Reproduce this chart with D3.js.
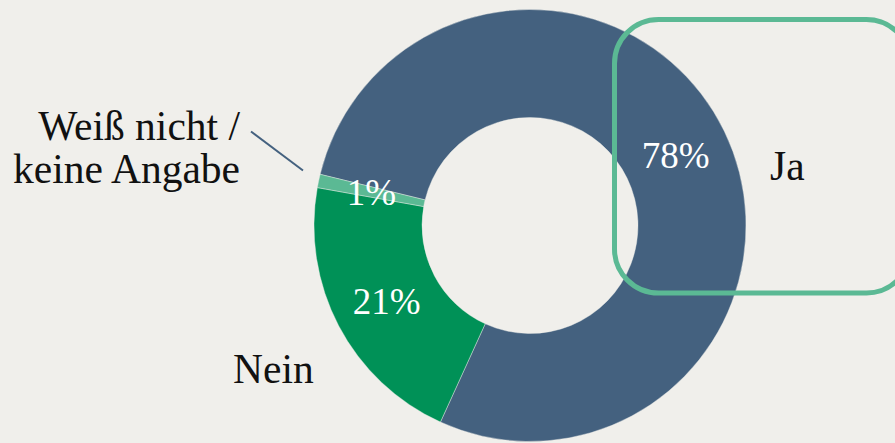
<!DOCTYPE html>
<html lang="de">
<head>
    <meta charset="UTF-8">
    <title>Donut</title>
    <script src="https://d3js.org/d3.v7.min.js"></script>
    <style>
        html, body { margin: 0; padding: 0; background: #f0efeb; }
        svg { display: block; }
        text { font-family: "Liberation Serif", "Times New Roman", serif; }
    </style>
</head>
<body>

<div id="chart"></div>

<script>
    var categories = ["Ja", "Nein", "Weiß nicht / keine Angabe"];
    var values = [78, 21, 1];
    var colors = ["#44617f", "#009157", "#5bb994"];

    var width = 895, height = 443;
    var cx = 530, cy = 225.5,
        outerR = 216, innerR = 108;

    var svg = d3.select("#chart")
        .append("svg")
        .attr("width", width)
        .attr("height", height);

    var data = categories.map(function(c, i) { return {name: c, value: values[i], color: colors[i]}; });

    var pie = d3.pie()
        .sort(null)
        .value(function(d) { return d.value; })
        .startAngle(-76.3 * Math.PI / 180)
        .endAngle((360 - 76.3) * Math.PI / 180);

    var arc = d3.arc().innerRadius(innerR).outerRadius(outerR);

    var g = svg.append("g").attr("transform", "translate(" + cx + "," + cy + ")");
    var arcs = pie(data);

    g.selectAll("path")
        .data(arcs)
        .enter()
        .append("path")
        .attr("d", arc)
        .attr("fill", function(d) { return d.data.color; })
        .attr("stroke", "#f0efeb")
        .attr("stroke-width", 0.4);

    // percent labels at the centroid
    g.selectAll("text.pct")
        .data(arcs)
        .enter()
        .append("text")
        .attr("class", "pct")
        .attr("x", function(d) { return arc.centroid(d)[0]; })
        .attr("y", function(d) { return arc.centroid(d)[1]; })
        .attr("dy", "0.36em")
        .attr("text-anchor", "middle")
        .attr("fill", "#ffffff")
        .style("font-size", "37px")
        .text(function(d) { return d.data.value + "%"; });

    // highlight box around "Ja"
    svg.append("rect")
        .attr("x", 614.5)
        .attr("y", 19.5)
        .attr("width", 296)
        .attr("height", 273.5)
        .attr("rx", 44)
        .attr("fill", "none")
        .attr("stroke", "#5bb994")
        .attr("stroke-width", 5);

    // outside category labels
    svg.append("text")
        .attr("x", 770).attr("y", 180)
        .style("font-size", "41.5px")
        .attr("fill", "#111")
        .text(categories[0]);

    svg.append("text")
        .attr("x", 233).attr("y", 383)
        .style("font-size", "41.5px")
        .attr("fill", "#111")
        .text(categories[1]);

    var wn = svg.append("text")
        .attr("text-anchor", "end")
        .style("font-size", "41.5px")
        .attr("fill", "#111");
    wn.append("tspan").attr("x", 240).attr("y", 140).text("Weiß nicht /");
    wn.append("tspan").attr("x", 240).attr("y", 183).text("keine Angabe");

    svg.append("line")
        .attr("x1", 251).attr("y1", 131.5)
        .attr("x2", 303).attr("y2", 170.5)
        .attr("stroke", "#44617f")
        .attr("stroke-width", 2);
</script>

</body>
</html>
